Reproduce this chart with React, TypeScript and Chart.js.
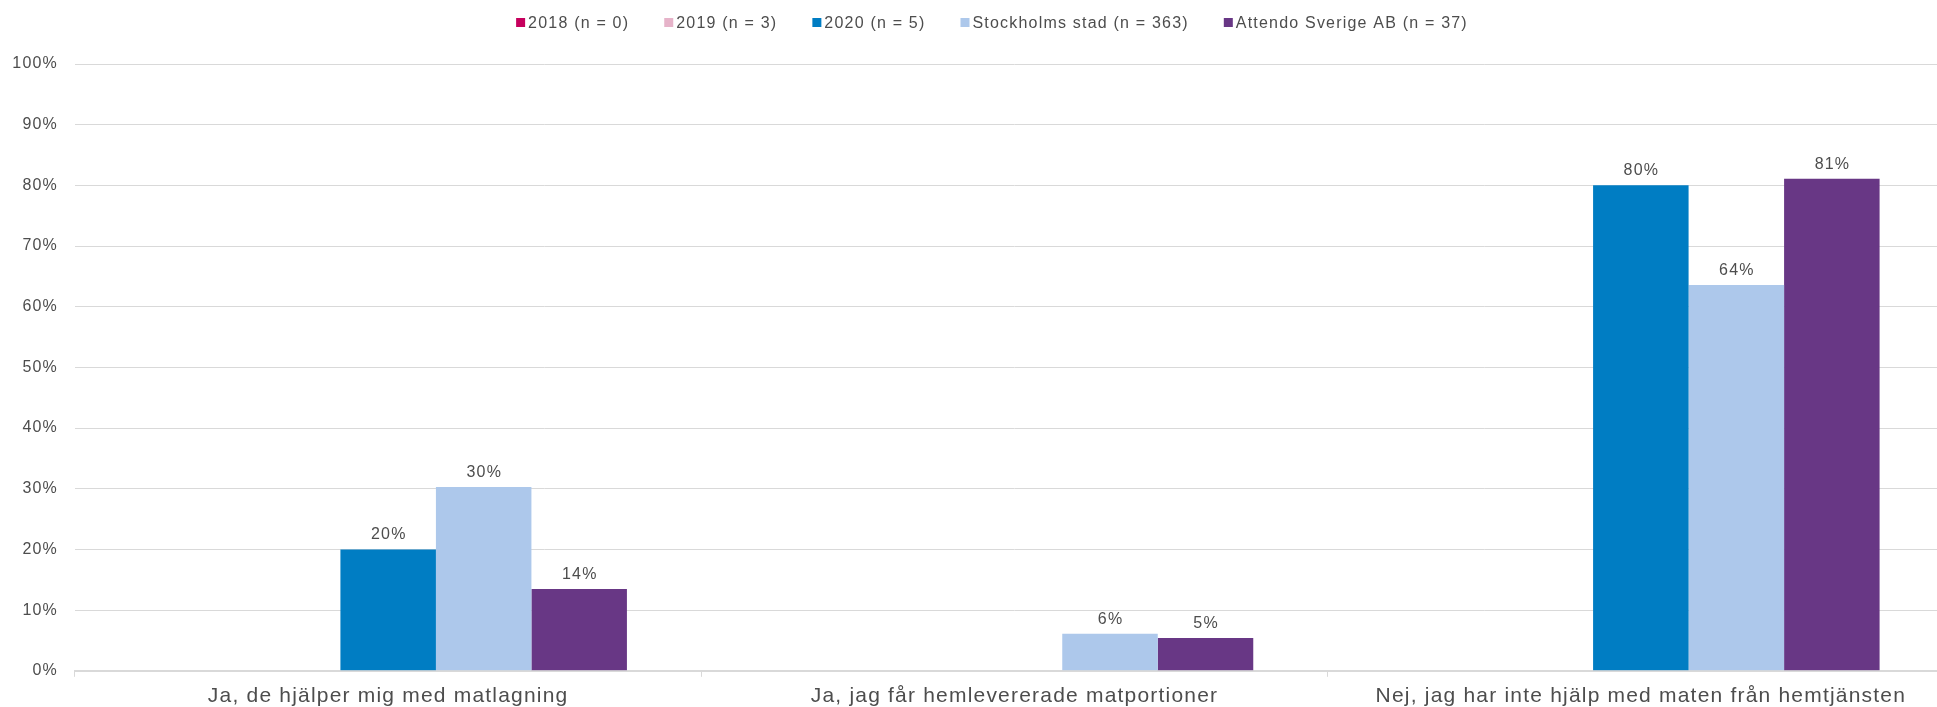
import React, { useEffect, useRef } from "react";
import { Chart, registerables } from "chart.js";

Chart.register(...registerables);

const categories = [
  "Ja, de hjälper mig med matlagning",
  "Ja, jag får hemlevererade matportioner",
  "Nej, jag har inte hjälp med maten från hemtjänsten",
];
const seriesLabels = [
  "2018 (n = 0)",
  "2019 (n = 3)",
  "2020 (n = 5)",
  "Stockholms stad (n = 363)",
  "Attendo Sverige AB (n = 37)",
];
const seriesColors = ["#C6005D", "#E6B3C9", "#007DC3", "#ADC8EB", "#683785"];
const values2018: (number | null)[] = [null, null, null];
const values2019: (number | null)[] = [null, null, null];
const values2020: (number | null)[] = [20, 0, 80];
const valuesStockholm: (number | null)[] = [30.3, 6.1, 63.6];
const valuesAttendo: (number | null)[] = [13.5, 5.4, 81.1];
const yMin = 0;
const yMax = 100;
const yStep = 10;

const FONT = '"Liberation Sans", Arial, sans-serif';
const TEXT_COLOR = "#4D4D4D";
const GRID_COLOR = "#D9D9D9";
const SPACING = "1.2px";

const spacingPlugin = {
  id: "spacing",
  beforeLayout(chart: any) {
    chart.ctx.letterSpacing = SPACING;
  },
  beforeDraw(chart: any) {
    chart.ctx.letterSpacing = SPACING;
  },
};

const dataLabelPlugin = {
  id: "dataLabels",
  afterDatasetsDraw(chart: any) {
    const ctx = chart.ctx;
    ctx.save();
    ctx.letterSpacing = SPACING;
    ctx.font = `16px ${FONT}`;
    ctx.fillStyle = TEXT_COLOR;
    ctx.textAlign = "center";
    ctx.textBaseline = "alphabetic";
    chart.data.datasets.forEach((ds: any, di: number) => {
      const meta = chart.getDatasetMeta(di);
      meta.data.forEach((bar: any, i: number) => {
        const v = ds.data[i];
        if (v === null || v === undefined || v <= 0) return;
        ctx.fillText(Math.round(v) + "%", bar.x + 0.6, bar.y - 10);
      });
    });
    ctx.restore();
  },
};

const legendPlugin = {
  id: "customLegend",
  afterDraw(chart: any) {
    const ctx = chart.ctx;
    ctx.save();
    ctx.letterSpacing = SPACING;
    ctx.font = `16px ${FONT}`;
    ctx.textBaseline = "alphabetic";
    ctx.textAlign = "left";
    const box = 9;
    const gap = 3;
    const itemGap = 35;
    const items = chart.data.datasets.map((ds: any) => ({
      text: ds.label,
      color: ds.backgroundColor,
      w: ctx.measureText(ds.label).width,
    }));
    const total =
      items.reduce((s: number, it: any) => s + box + gap + it.w, 0) +
      itemGap * (items.length - 1);
    let x = (chart.width - total) / 2;
    items.forEach((it: any) => {
      ctx.fillStyle = it.color;
      ctx.fillRect(x, 18, box, box);
      ctx.fillStyle = TEXT_COLOR;
      ctx.fillText(it.text, x + box + gap, 28);
      x += box + gap + it.w + itemGap;
    });
    ctx.restore();
  },
};

export default function App() {
  const canvasRef = useRef<HTMLCanvasElement | null>(null);

  useEffect(() => {
    const canvas = canvasRef.current;
    if (!canvas) return;
    const seriesValues = [values2018, values2019, values2020, valuesStockholm, valuesAttendo];
    const chart = new Chart(canvas, {
      type: "bar",
      data: {
        labels: categories,
        datasets: seriesLabels.map((label, i) => ({
          label,
          data: seriesValues[i],
          backgroundColor: seriesColors[i],
          borderWidth: 0,
          categoryPercentage: 0.7624,
          barPercentage: 1.0,
        })),
      },
      options: {
        animation: false,
        responsive: false,
        devicePixelRatio: 1,
        layout: { padding: { top: 64, right: 30, bottom: -9, left: 0 } },
        plugins: {
          legend: { display: false },
          tooltip: { enabled: false },
          title: { display: false },
        },
        scales: {
          x: {
            grid: {
              offset: true,
              drawOnChartArea: false,
              drawTicks: true,
              tickLength: 6,
              color: GRID_COLOR,
              lineWidth: 1,
            },
            border: { display: true, color: GRID_COLOR, width: 2 },
            ticks: {
              color: TEXT_COLOR,
              font: { family: FONT, size: 21 },
              padding: 7,
              maxRotation: 0,
              autoSkip: false,
            },
          },
          y: {
            min: yMin,
            max: yMax,
            afterFit(scale: any) {
              scale.width = 75;
            },
            grid: {
              color: GRID_COLOR,
              lineWidth: 1,
              drawTicks: false,
            },
            border: { display: false },
            ticks: {
              stepSize: yStep,
              color: TEXT_COLOR,
              font: { family: FONT, size: 16 },
              padding: 17,
              callback: (v: any) => v + "%",
            },
          },
        },
      },
      plugins: [spacingPlugin, dataLabelPlugin, legendPlugin],
    });
    return () => chart.destroy();
  }, []);

  return (
    <div
      style={{
        position: "fixed",
        left: 0,
        top: 0,
        width: 1984,
        height: 707,
        background: "#fff",
      }}
    >
      <canvas
        ref={canvasRef}
        width={1984}
        height={707}
        style={{ width: 1984, height: 707, display: "block" }}
      />
    </div>
  );
}
